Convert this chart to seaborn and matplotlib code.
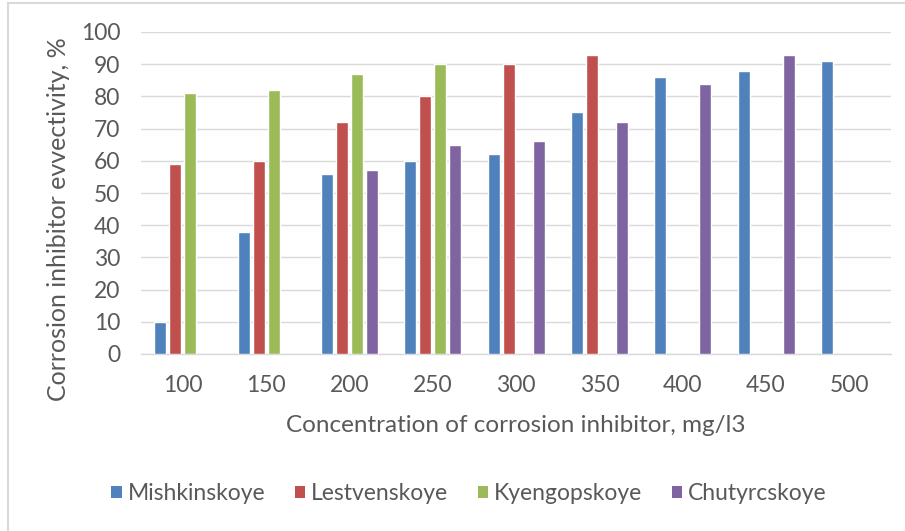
import numpy as np
import pandas as pd
import seaborn as sns
import matplotlib.pyplot as plt
from matplotlib.patches import Rectangle, Patch

# Inhibitor concentration (mg/l3) and efficiency (%) per oil field; None = not measured
concentrations = ["100", "150", "200", "250", "300", "350", "400", "450", "500"]
fields = ["Mishkinskoye", "Lestvenskoye", "Kyengopskoye", "Chutyrcskoye"]
mishkinskoye = [10, 38, 56, 60, 62, 75, 86, 88, 91]
lestvenskoye = [59, 60, 72, 80, 90, 93, None, None, None]
kyengopskoye = [81, 82, 87, 90, None, None, None, None, None]
chutyrcskoye = [None, None, 57, 65, 66, 72, 84, 93, None]
colors = ["#4F81BD", "#C0504D", "#9BBB59", "#8064A2"]

series = [mishkinskoye, lestvenskoye, kyengopskoye, chutyrcskoye]
rows = []
for name, vals in zip(fields, series):
    for c, v in zip(concentrations, vals):
        if v is not None:
            rows.append({"conc": c, "field": name, "eff": v})
df = pd.DataFrame(rows)

sns.set_theme(style="white")
plt.rcParams["font.family"] = ["Lato", "DejaVu Sans"]
text_color = "#595959"

W, H = 905, 531
fig = plt.figure(figsize=(W / 100, H / 100), dpi=100)
ax = fig.add_axes([141 / W, (H - 354) / H, 750 / W, 322 / H])

sns.barplot(data=df, x="conc", y="eff", hue="field", order=concentrations,
            hue_order=fields, palette=colors, width=0.72, gap=0.2,
            saturation=1, errorbar=None, legend=False, ax=ax, zorder=3)

ax.set_ylim(0, 100)
ax.set_yticks(range(0, 101, 10))
ax.set_xlim(-0.5, len(concentrations) - 0.5)
ax.yaxis.grid(True, color="#D9D9D9", linewidth=1.0, zorder=0)
for s in ["top", "right", "left"]:
    ax.spines[s].set_visible(False)
ax.spines["bottom"].set_color("#D9D9D9")
ax.spines["bottom"].set_linewidth(1.0)
ax.tick_params(axis="y", length=0, pad=15, labelsize=16.5, labelcolor=text_color)
ax.tick_params(axis="x", length=0, pad=15, labelsize=16.5, labelcolor=text_color)

ax.set_xlabel("")
ax.set_ylabel("")
fig.text(516 / W, 1 - 425 / H, "Concentration of corrosion inhibitor, mg/l3",
         ha="center", va="center", fontsize=17.5, color=text_color)
fig.text(58 / W, 1 - 219 / H, "Corrosion inhibitor evvectivity, %",
         ha="center", va="center", rotation=90, fontsize=18, color=text_color)

handles = [Patch(facecolor=c, edgecolor="none") for c in colors]
fig.legend(handles, fields, loc="center", bbox_to_anchor=(469 / W, 1 - 494 / H),
           ncol=4, frameon=False, fontsize=16.5, labelcolor=text_color,
           handlelength=0.45, handleheight=0.45, handletextpad=0.25,
           columnspacing=1.3)

# Chart frame
fig.patches.append(Rectangle((8 / W, -0.05), 1.0, 1 - 3 / H + 0.05,
                             transform=fig.transFigure, fill=False,
                             edgecolor="#D9D9D9", linewidth=1.5))

fig.savefig("out.png", dpi=100)
